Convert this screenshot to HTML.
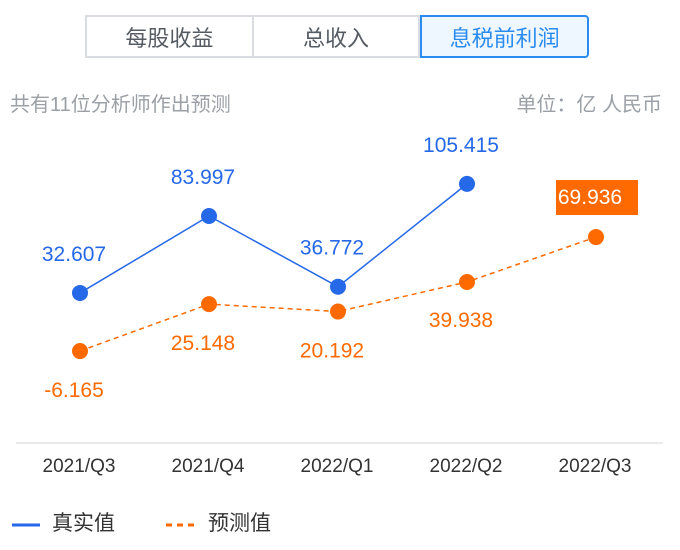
<!DOCTYPE html>
<html><head><meta charset="utf-8">
<style>
body{margin:0;width:680px;height:550px;background:#fff;font-family:"Liberation Sans","Noto Sans CJK SC",sans-serif;position:relative;overflow:hidden}
.tabs{position:absolute;left:85px;top:15px;width:504px;height:43px;display:flex}
.tab{flex:1;box-sizing:border-box;border:2px solid #d9dde2;display:flex;align-items:center;justify-content:center;font-size:22px;color:#555b63}
.tab+.tab{border-left:none}
.tab.active{border:2px solid #2a8cf0;background:#eef6ff;color:#2a8cf0;border-radius:0 4px 4px 0}
.note{position:absolute;top:88px;font-size:20px;color:#9aa0a6}
</style></head><body>
<div class="tabs">
<div class="tab">每股收益</div>
<div class="tab">总收入</div>
<div class="tab active">息税前利润</div>
</div>
<div class="note" style="left:10px">共有11位分析师作出预测</div>
<div class="note" style="right:18px">单位：亿 人民币</div>
<svg id="chart" width="680" height="550" style="position:absolute;left:0;top:0"></svg>
<script>
const categories=["2021/Q3","2021/Q4","2022/Q1","2022/Q2","2022/Q3"];
const actualValues=[32.607,83.997,36.772,105.415,null];
const forecastValues=[-6.165,25.148,20.192,39.938,69.936];
const svg=document.getElementById('chart');
const NS='http://www.w3.org/2000/svg';
function x(i){return 80+i*129;}
function y(v){return 341.8-v*1.498;}
function mk(t,a,txt){const e=document.createElementNS(NS,t);for(const k in a)e.setAttribute(k,a[k]);if(txt!=null)e.textContent=txt;svg.appendChild(e);return e;}
let ax=mk('line',{x1:16,x2:663,y1:443,y2:443,stroke:'#e3e3e3','stroke-width':1.5});


categories.forEach((c,i)=>{let t=mk('text',{x:x(i)-1,y:472,'text-anchor':'middle','font-size':19,fill:'#333'},c);

});
function series(vals,color,dash,name,labelPos){
 const pts=vals.map((v,i)=>v==null?null:[x(i),y(v)]).filter(p=>p);
 let p=mk('polyline',{points:pts.map(p=>p.join(',')).join(' '),fill:'none',stroke:color,'stroke-width':1.5,'stroke-dasharray':dash});
 
 
 vals.forEach((v,i)=>{if(v==null)return;
  let c=mk('circle',{cx:x(i),cy:y(v),r:8,fill:color});
  
  
  const off=labelPos(i);
  const last=name==='forecast'&&i===vals.length-1;
  if(last){
   let r=mk('rect',{x:x(i)-40,y:y(v)+off-24,width:82,height:35,fill:'#ff6a00'});
   
   
  }
  let t=mk('text',{x:x(i)-6,y:y(v)+off,'text-anchor':'middle','font-size':21,fill:last?'#fff':color},v.toFixed(3));
  
  
 });
}
series(actualValues,'#2568e8','none','actual',i=>-32);
series(forecastValues,'#ff6a00','5,4','forecast',i=>i===4?-33:i===3?45:46);
let l1=mk('line',{x1:12,x2:40,y1:525,y2:525,stroke:'#2568e8','stroke-width':3});


let lt1=mk('text',{x:52,y:530,'font-size':21,fill:'#333'},'真实值');


let l2=mk('line',{x1:166,x2:196,y1:525,y2:525,stroke:'#ff6a00','stroke-width':3,'stroke-dasharray':'6,5'});


let lt2=mk('text',{x:208,y:530,'font-size':21,fill:'#333'},'预测值');


</script>
</body></html>
